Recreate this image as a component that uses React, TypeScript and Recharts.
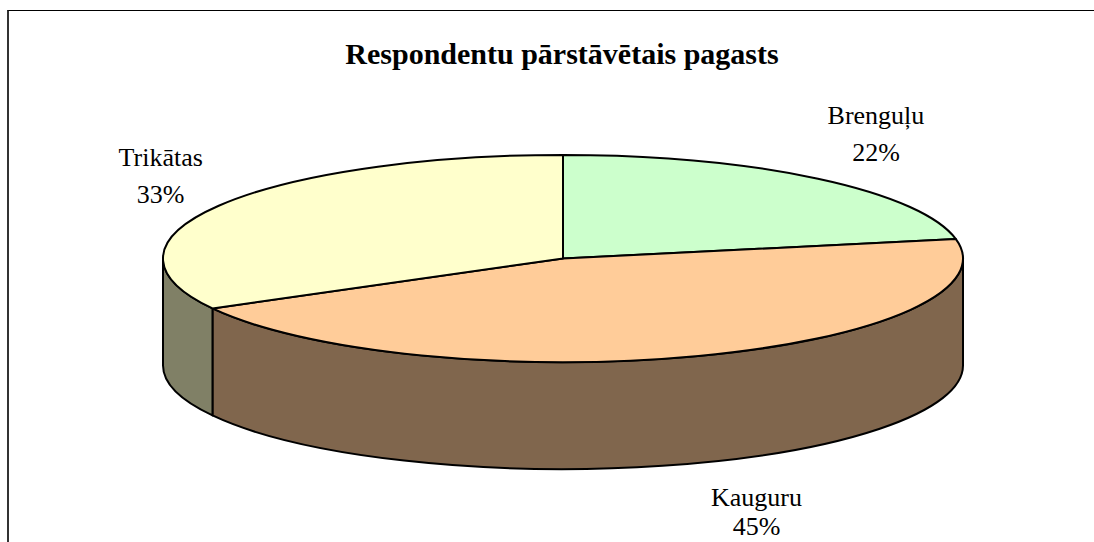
import React from "react";
import { PieChart, Pie, Cell } from "recharts";

// survey shares by parish
const categories = ["Brenguļu", "Kauguru", "Trikātas"];
const shares = [22, 45, 33];

const topColors = ["#CCFFCC", "#FFCC99", "#FFFFCC"];
const sideColors = ["#668066", "#80664D", "#808066"];

const W = 1094;
const H = 542;
const TILT = 0.259; // ry / rx of the top face
const DEPTH = 107; // height of the cylinder wall
const LINE_GAP = 37;
const FONT = '"Liberation Serif", "Times New Roman", serif';

const data = categories.map((name, i) => ({ name, value: shares[i], idx: i }));

function pt(cx: number, cy: number, rx: number, ry: number, deg: number) {
  const a = (deg * Math.PI) / 180;
  return [cx + rx * Math.cos(a), cy - ry * Math.sin(a)];
}

function Slice3D(props: any) {
  const { cx, cy, outerRadius, startAngle, endAngle } = props;
  const idx = props.payload?.idx ?? props.idx ?? 0;
  const rx = outerRadius;
  const ry = outerRadius * TILT;

  // front half of the rim is -180..0 degrees (mod 360)
  const lo = Math.min(startAngle, endAngle);
  const hi = Math.max(startAngle, endAngle);
  const walls: string[] = [];
  for (let k = -2; k <= 1; k++) {
    const a = Math.max(lo, -180 + 360 * k);
    const b = Math.min(hi, 360 * k);
    if (b - a > 0.01) {
      const [x1, y1] = pt(cx, cy, rx, ry, a);
      const [x2, y2] = pt(cx, cy, rx, ry, b);
      walls.push(
        `M${x1},${y1} A${rx},${ry} 0 0 0 ${x2},${y2} L${x2},${y2 + DEPTH} A${rx},${ry} 0 0 1 ${x1},${y1 + DEPTH} Z`
      );
    }
  }

  const [xs, ys] = pt(cx, cy, rx, ry, startAngle);
  const [xe, ye] = pt(cx, cy, rx, ry, endAngle);
  const large = Math.abs(startAngle - endAngle) > 180 ? 1 : 0;
  const sweep = startAngle > endAngle ? 1 : 0;
  const top = `M${cx},${cy} L${xs},${ys} A${rx},${ry} 0 ${large} ${sweep} ${xe},${ye} Z`;

  return (
    <g>
      {walls.map((d, i) => (
        <path key={i} d={d} fill={sideColors[idx]} stroke="#000" strokeWidth={2} strokeLinejoin="round" />
      ))}
      <path d={top} fill={topColors[idx]} stroke="#000" strokeWidth={2} strokeLinejoin="round" />
    </g>
  );
}

function renderLabel(p: any) {
  const { cx, cy, outerRadius, midAngle, percent, name } = p;
  const rx = outerRadius;
  const ry = rx * TILT;
  const a = (midAngle * Math.PI) / 180;
  const c = Math.cos(a);
  const s = Math.sin(a);
  const px = cx + rx * c;
  let py = cy - ry * s;
  if (s < 0) py += DEPTH;
  const x = px + 58 * Math.sign(c);
  const y = py - 57 * s - 10.5;
  // squeeze the second line so it stays inside the chart
  const gap = Math.min(LINE_GAP, H - 7 - y);
  return (
    <text x={x} y={y} textAnchor="middle" fill="#000" fontFamily={FONT} fontSize={26}>
      <tspan x={x}>{name}</tspan>
      <tspan x={x} dy={gap}>{Math.round(percent * 100)}%</tspan>
    </text>
  );
}

export default function App() {
  return (
    <div style={{ position: "relative", width: W, height: H, overflow: "hidden", background: "#fff" }}>
      <style>{"body{margin:0;overflow:hidden;background:#fff}"}</style>
      <div
        style={{
          position: "absolute",
          left: 7,
          top: 10,
          width: 1200,
          height: 600,
          borderLeft: "2px solid #333",
          borderTop: "1px solid #000",
        }}
      />
      <div
        style={{
          position: "absolute",
          left: 262,
          top: 37,
          width: 600,
          textAlign: "center",
          fontFamily: FONT,
          fontWeight: "bold",
          fontSize: 30,
          color: "#000",
          whiteSpace: "nowrap",
        }}
      >
        Respondentu pārstāvētais pagasts
      </div>
      <div style={{ position: "absolute", left: 0, top: 0 }}>
        <PieChart width={W} height={H}>
          <Pie
            data={data}
            dataKey="value"
            nameKey="name"
            cx={558}
            cy={253.5}
            outerRadius={400}
            startAngle={90}
            endAngle={-270}
            isAnimationActive={false}
            shape={Slice3D}
            label={renderLabel}
            labelLine={false}
          >
            {data.map((d, i) => (
              <Cell key={d.name} fill={topColors[i]} />
            ))}
          </Pie>
        </PieChart>
      </div>
    </div>
  );
}
